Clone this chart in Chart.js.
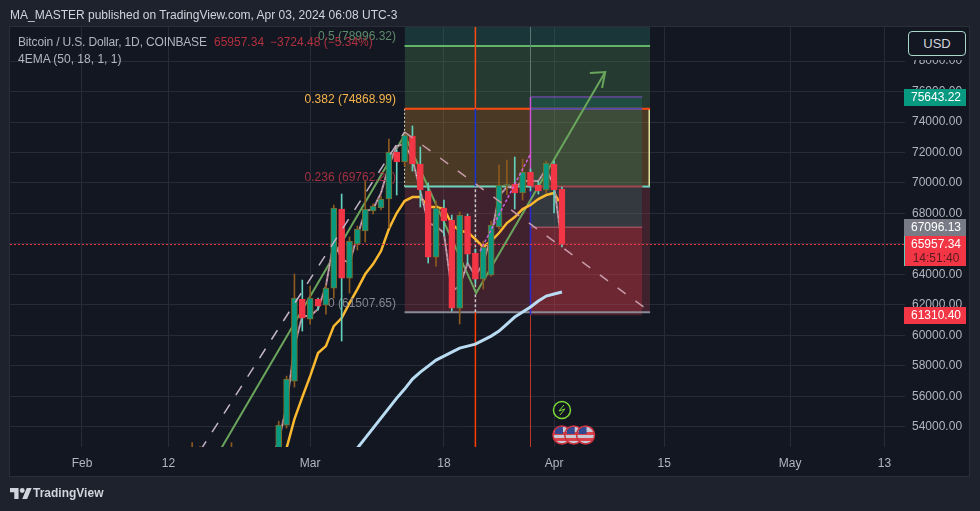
<!DOCTYPE html>
<html>
<head>
<meta charset="utf-8">
<title>BTCUSD</title>
<script src="https://cdn.jsdelivr.net/npm/chart.js@4/dist/chart.umd.min.js"></script>
<style>
  html, body { margin: 0; padding: 0; background: #1e222d; width: 980px; height: 511px; overflow: hidden; }
  body { font-family: "Liberation Sans", Arial, sans-serif; position: relative; }
  .txt { position: absolute; white-space: nowrap; line-height: 16px; }
  #panel { position: absolute; left: 9px; top: 26px; width: 959px; height: 449px; background: #131722; border: 1px solid #2a2e39; }
  #c { position: absolute; left: 0; top: 0; }
  #usdMask { position: absolute; left: 906px; top: 28px; width: 62px; height: 32px; background: #131722; }
  #usd { position: absolute; left: 908px; top: 31px; width: 56px; height: 23px; line-height: 23px; text-align: center;
         border: 1px solid #a8d8c8; border-radius: 4px; color: #d1d4dc; font-size: 13px; background: #131722; }
  #logo { position: absolute; left: 10px; top: 487px; }
</style>
</head>
<body>
<div id="panel"></div>
<canvas id="c" width="980" height="511"></canvas>
<div class="txt" style="left:10px;top:7px;font-size:12px;color:#d1d4dc">MA_MASTER published on TradingView.com, Apr 03, 2024 06:08 UTC-3</div>
<div class="txt" style="left:18px;top:34px;font-size:12px;letter-spacing:-0.15px;color:#b2b5be">Bitcoin / U.S. Dollar, 1D, COINBASE</div>
<div class="txt" style="left:214px;top:34px;font-size:12px;color:#b0303e">65957.34</div>
<div class="txt" style="left:270px;top:34px;font-size:12px;color:#b0303e">−3724.48 (−5.34%)</div>
<div class="txt" style="left:18px;top:51px;font-size:12px;color:#b2b5be">4EMA (50, 18, 1, 1)</div>
<div id="usdMask"></div>
<div id="usd">USD</div>
<svg id="logo" width="22" height="13" viewBox="0 4 36 18"><path fill="#d1d4dc" d="M14 22H7V11H0V4h14v18zM28 22h-8l7.5-18h8L28 22z"/><circle fill="#d1d4dc" cx="20" cy="8" r="4"/></svg>
<div class="txt" style="left:33px;top:485px;font-size:12px;font-weight:bold;color:#d1d4dc">TradingView</div>

<script>
// days are counted from Feb 1 2024
var yMin = 52668, yMax = 80236;
var xMin = -9.15, xMax = 104.6;

var priceTicks = [54000, 56000, 58000, 60000, 62000, 64000, 66000, 68000, 70000, 72000, 74000, 76000, 78000];
var dayTicks = [0, 11, 29, 46, 60, 74, 90, 102];
var dayLabels = ['Feb', '12', 'Mar', '18', 'Apr', '15', 'May', '13'];

// candles
var candleDays = [14, 15, 19, 25, 26, 27, 28, 29, 30, 31, 32, 33, 34, 35, 36, 37, 38, 39, 40, 41, 42, 43, 44, 45, 46, 47, 48, 49, 50, 51, 52, 53, 54, 55, 56, 57, 58, 59, 60, 61];
var candleOpen = [49700, 51800, 51500, 51700, 54105, 56994, 62379, 61066, 62379, 61985, 63100, 68288, 63757, 65989, 66843, 68156, 68354, 68944, 72030, 71374, 73081, 71242, 69470, 65136, 68354, 67565, 61788, 67828, 65398, 63691, 63954, 67106, 69798, 69929, 69338, 70717, 69864, 69535, 71242, 69601];
var candleClose = [51800, 51900, 51800, 54105, 57125, 62444, 61131, 62444, 61919, 63100, 68354, 63757, 66187, 66975, 68288, 68485, 68944, 72030, 71374, 73147, 71242, 69535, 65136, 68354, 67500, 61788, 67894, 65333, 63691, 65793, 67237, 69864, 69929, 69338, 70717, 69798, 69470, 71308, 69535, 65957.34];
var candleHigh = [52950, 52700, 52950, 54360, 57322, 64020, 63626, 63232, 62444, 63300, 68550, 69273, 66450, 67172, 70126, 68622, 69141, 72884, 72161, 73344, 73738, 72359, 69995, 68813, 68879, 67894, 68091, 67959, 65661, 66187, 67500, 71177, 71505, 71702, 71571, 70914, 70126, 71440, 71440, 69732];
var candleLow = [49200, 51000, 51000, 50900, 53908, 56600, 60277, 60737, 61657, 61394, 62444, 59621, 62772, 65596, 66121, 67959, 68222, 67040, 69207, 71111, 70783, 68419, 64742, 64545, 66515, 61591, 60737, 64677, 63363, 63035, 63889, 66975, 69207, 68288, 68879, 69470, 69273, 69338, 68025, 65793];

// the three averages of the 4EMA study
var fastDays = [24, 25, 26, 27, 28, 29, 30, 31, 32, 33, 34, 35, 36, 37, 38, 39, 40, 41, 42, 43, 44, 45, 46, 47, 48, 49, 50, 51, 52, 53, 54, 55, 56, 57, 58, 59, 60, 61];
var fastEma = [51900, 53055, 55353, 59292, 61262, 61262, 61722, 63232, 66187, 65005, 64742, 66515, 68156, 68288, 69338, 71111, 72424, 72556, 71571, 69470, 67369, 67172, 66712, 62903, 63232, 64742, 63889, 64742, 66515, 69141, 69732, 69667, 70126, 70126, 70126, 70914, 69798, 65989];
var midDays = [25, 26, 27, 28, 29, 30, 31, 32, 33, 34, 35, 36, 37, 38, 39, 40, 41, 42, 43, 44, 45, 46, 47, 48, 49, 50, 51, 52, 53, 54, 55, 56, 57, 58, 59, 60, 60.6];
var midEma = [50690, 52595, 54498, 55944, 57322, 58833, 59292, 60605, 61131, 62116, 63035, 64020, 64676, 65530, 66975, 68025, 68813, 69076, 69076, 68419, 68419, 68288, 67303, 66843, 66778, 66318, 65793, 66187, 66712, 67369, 67762, 68288, 68550, 68944, 69207, 69338, 68813];
var slowDays = [34, 35, 36, 37, 38, 39, 40, 41, 42, 43, 44, 45, 46, 47, 48, 49, 50, 51, 52, 53, 54, 55, 56, 57, 58, 59, 60, 61];
var slowEma = [51900, 52595, 53252, 53908, 54565, 55221, 55878, 56469, 57125, 57585, 57979, 58373, 58634, 58897, 59160, 59292, 59423, 59686, 59949, 60277, 60737, 61197, 61525, 61853, 62247, 62575, 62706, 62840];

// fib retracement and position tool
var fibLevels = [78996.32, 74868.99, 69762.26, 61507.65];
var fibLabels = ['0.5 (78996.32)', '0.382 (74868.99)', '0.236 (69762.26)', '0 (61507.65)'];
var fibLabelColors = ['#5d8a6a', '#f7b54a', '#a3303f', '#85858f'];
var fibStart = 41, fibEnd = 72.2, posStart = 57, posEnd = 71.2, crossDay = 50;
var posTarget = 75643.22, posEntry = 67096.13, posStop = 61310.40;
var lastPrice = 65957.34;

// drawn trend lines
var trendDays = [16.3, 41, 50.1, 66.5], trendPrices = [51347, 73147, 62772, 77283];
var arrowDays = [64.55, 66.5, 66.1], arrowPrices = [77217, 77283, 76233];
var upDashDays = [12, 41], upDashPrices = [50000, 73344];
var downDashDays = [41, 72], downDashPrices = [73344, 61630];
var purpleDays = [50.6, 57], purplePrices = [65530, 71900];

// axis tags
var tagPrices = [75643.22, 67096.13, 61310.40];
var tagTexts = ['75643.22', '67096.13', '61310.40'];
var tagColors = ['#089981', '#787b86', '#f23645'];
var countdown = '14:51:40';

// news markers under the candles
var flashDays = [61];
var flagDays = [61, 62.5, 64];

function pts(xs, ys) {
  return xs.map(function(x, i) { return { x: x, y: ys[i] }; });
}
function line(xs, ys, color, width, order, dash) {
  return { type: 'line', data: pts(xs, ys), borderColor: color, borderWidth: width, order: order,
           borderDash: dash || [], pointRadius: 0, tension: 0, fill: false };
}
function band(d0, d1, top, bottom, color, order) {
  return { type: 'line', data: pts([d0, d1], [top, top]), borderWidth: 0, pointRadius: 0, order: order,
           backgroundColor: color, fill: { value: bottom } };
}

var isUp = candleOpen.map(function(o, i) { return candleClose[i] >= o; });
var wicks = {
  type: 'bar', label: 'wicks', order: 5, barThickness: 1, grouped: false,
  data: candleDays.map(function(d, i) { return { x: d, y: [candleLow[i], candleHigh[i]] }; }),
  backgroundColor: isUp.map(function(u) { return u ? '#8d5a1e' : '#62d0bd'; })
};
var bodies = {
  type: 'bar', order: 4, barThickness: 6, grouped: false, borderWidth: 1, borderSkipped: false,
  data: candleDays.map(function(d, i) { return { x: d, y: [candleOpen[i], candleClose[i]] }; }),
  backgroundColor: isUp.map(function(u) { return u ? '#089981' : '#f23645'; }),
  borderColor: isUp.map(function(u) { return u ? '#7d6a2c' : '#f23645'; })
};

var datasets = [
  // fib bands
  band(fibStart, fibEnd, yMax, fibLevels[0], 'rgba(42,126,111,0.3)', 40),
  band(fibStart, fibEnd, fibLevels[0], fibLevels[1], 'rgba(79,143,87,0.3)', 40),
  band(fibStart, fibEnd, fibLevels[1], fibLevels[2], 'rgba(202,140,47,0.3)', 40),
  band(fibStart, fibEnd, fibLevels[2], fibLevels[3], 'rgba(169,60,77,0.3)', 40),
  // long position on top of them
  band(posStart, posEnd, posTarget, posEntry, 'rgba(8,153,129,0.2)', 35),
  band(posStart, posEnd, posEntry, posStop, 'rgba(242,54,69,0.25)', 35),

  // fib levels
  line([fibStart, fibEnd], [fibLevels[0], fibLevels[0]], '#63b56a', 2, 30),
  line([fibStart, fibEnd], [fibLevels[1], fibLevels[1]], '#ff4a12', 2, 30),
  line([posStart, posEnd], [fibLevels[1], fibLevels[1]], '#4a4fa8', 2, 29),
  line([fibStart, posStart], [fibLevels[2], fibLevels[2]], '#6fd5c0', 2, 30),
  line([posStart, posEnd], [fibLevels[2], fibLevels[2]], '#a04650', 2, 30),
  line([posEnd, fibEnd], [fibLevels[2], fibLevels[2]], '#6fd5c0', 2, 30),
  line([fibStart, fibEnd], [fibLevels[3], fibLevels[3]], '#8b8b97', 2, 30),
  line([posStart, posEnd], [posTarget, posTarget], '#8a4ad0', 1, 30),
  line([posStart, posEnd], [posEntry, posEntry], '#c06070', 1, 30),
  line([fibStart, fibStart], [fibLevels[1], fibLevels[2]], '#d8d8c0', 1, 30, [2, 2]),
  line([fibEnd - 0.1, fibEnd - 0.1], [fibLevels[1], fibLevels[2]], '#e0e0a0', 1, 30),

  // the two vertical markers, coloured by the band they cross
  line([crossDay, crossDay], [yMin, fibLevels[3]], '#ff3d00', 1.5, 28),
  line([crossDay, crossDay], [fibLevels[3], fibLevels[2]], '#c8c8c8', 1.5, 28, [3, 2]),
  line([crossDay, crossDay], [fibLevels[2], fibLevels[1]], '#1a36d0', 1.5, 28),
  line([crossDay, crossDay], [fibLevels[1], yMax], '#ff4a12', 1.5, 28),
  line([posStart, posStart], [yMin, posStop], '#c0392b', 1, 28),
  line([posStart, posStart], [posStop, fibLevels[2]], '#2a2ad0', 1.5, 28),
  line([posStart, posStart], [fibLevels[2], posTarget], '#d050d8', 1.5, 28),
  line([posStart, posStart], [posTarget, yMax], '#5f7a75', 1, 28),

  line(trendDays, trendPrices, '#6aa55c', 2, 20),
  line(arrowDays, arrowPrices, '#6aa55c', 2, 20),
  line(slowDays, slowEma, '#b9dcf2', 3, 16),
  line(midDays, midEma, '#fbb92f', 2.5, 15),
  line(fastDays, fastEma, '#b08a9a', 2, 14),
  line(fastDays, fastEma, 'rgba(255,255,255,0.7)', 1, 13, [1, 4]),
  line([xMin, xMax], [lastPrice, lastPrice], '#f23645', 1, 12, [2, 2]),
  wicks,
  bodies,
  line(upDashDays, upDashPrices, '#c4b4c8', 1.5, 3, [11, 11]),
  line(downDashDays, downDashPrices, '#c89aa8', 1.5, 3, [10, 12]),
  line(purpleDays, purplePrices, '#d060e0', 1.5, 3, [3, 2])
];

// fib labels sit under the candles, tags and markers on top of everything
var overlay = {
  id: 'overlay',
  beforeDatasetDraw: function(chart, args) {
    if (chart.data.datasets[args.index].label !== 'wicks') return;
    var ctx = chart.ctx, y = chart.scales.y;
    ctx.save();
    ctx.font = '12px "Liberation Sans"';
    ctx.textAlign = 'right';
    ctx.textBaseline = 'bottom';
    fibLevels.forEach(function(v, i) {
      ctx.fillStyle = fibLabelColors[i];
      ctx.fillText(fibLabels[i], 396, y.getPixelForValue(v) - 3);
    });
    ctx.restore();
  },
  afterDraw: function(chart) {
    var ctx = chart.ctx, xs = chart.scales.x, ys = chart.scales.y;
    ctx.save();
    ctx.font = '12px "Liberation Sans"';
    ctx.textAlign = 'center';
    ctx.textBaseline = 'middle';

    flashDays.forEach(function(d) {
      var cx = xs.getPixelForValue(d), cy = chart.chartArea.bottom - 37;
      ctx.beginPath();
      ctx.arc(cx, cy, 8.5, 0, Math.PI * 2);
      ctx.fillStyle = '#131722';
      ctx.fill();
      ctx.strokeStyle = '#7cd93a';
      ctx.lineWidth = 1.5;
      ctx.stroke();
      ctx.beginPath();
      ctx.moveTo(cx + 2, cy - 5);
      ctx.lineTo(cx - 3, cy + 1);
      ctx.lineTo(cx + 3, cy - 1);
      ctx.lineTo(cx - 2, cy + 5);
      ctx.strokeStyle = '#7cd93a';
      ctx.lineWidth = 1;
      ctx.stroke();
    });
    flagDays.forEach(function(d) {
      var cx = xs.getPixelForValue(d), cy = chart.chartArea.bottom - 12;
      ctx.save();
      ctx.beginPath();
      ctx.arc(cx, cy, 9, 0, Math.PI * 2);
      ctx.clip();
      ctx.fillStyle = '#c8c8d4';
      ctx.fillRect(cx - 9, cy - 9, 18, 18);
      ctx.fillStyle = '#d8404a';
      ctx.fillRect(cx - 9, cy - 3, 18, 3);
      ctx.fillRect(cx - 9, cy + 3, 18, 3);
      ctx.fillStyle = '#34488f';
      ctx.fillRect(cx - 7, cy - 8, 8, 7);
      ctx.restore();
      ctx.beginPath();
      ctx.arc(cx, cy, 9, 0, Math.PI * 2);
      ctx.strokeStyle = '#c8323e';
      ctx.lineWidth = 1.5;
      ctx.stroke();
    });

    tagPrices.forEach(function(v, i) {
      var py = Math.round(ys.getPixelForValue(v));
      ctx.fillStyle = tagColors[i];
      ctx.fillRect(904, py - 8, 62, 17);
      ctx.fillStyle = '#ffffff';
      ctx.fillText(tagTexts[i], 936, py + 1);
    });
    // current price tag with the bar countdown under it
    var py = Math.round(ys.getPixelForValue(lastPrice));
    ctx.fillStyle = '#f23645';
    ctx.fillRect(904, py - 9, 62, 30);
    ctx.fillStyle = '#5fcdb8';
    ctx.fillRect(904, py - 9, 1, 30);
    ctx.fillStyle = '#ffffff';
    ctx.fillText(lastPrice.toFixed(2), 936, py);
    ctx.fillStyle = '#5a1a20';
    ctx.fillText(countdown, 936, py + 14);
    ctx.restore();
  }
};

new Chart(document.getElementById('c'), {
  type: 'bar',
  data: { datasets: datasets },
  plugins: [overlay],
  options: {
    responsive: false,
    animation: false,
    parsing: { xAxisKey: 'x', yAxisKey: 'y' },
    layout: { padding: { left: 10, top: 27, right: 12, bottom: 35 } },
    plugins: { legend: { display: false }, tooltip: { enabled: false } },
    scales: {
      x: {
        type: 'linear', min: xMin, max: xMax, offset: false,
        grid: { color: '#262b37', offset: false, drawTicks: false },
        border: { display: false },
        afterBuildTicks: function(s) { s.ticks = dayTicks.map(function(v) { return { value: v }; }); },
        afterFit: function(s) { s.height = 29; },
        ticks: {
          color: '#b2b5be', font: { size: 12, family: 'Liberation Sans' }, padding: 9, maxRotation: 0, autoSkip: false,
          callback: function(v) { return dayLabels[dayTicks.indexOf(v)]; }
        }
      },
      y: {
        type: 'linear', position: 'right', min: yMin, max: yMax,
        grid: { color: '#262b37', drawTicks: false },
        border: { display: false },
        afterBuildTicks: function(s) { s.ticks = priceTicks.map(function(v) { return { value: v }; }); },
        afterFit: function(s) { s.width = 63; },
        ticks: {
          color: '#b2b5be', font: { size: 12, family: 'Liberation Sans' }, padding: 7, autoSkip: false,
          callback: function(v) { return v.toFixed(2); }
        }
      }
    }
  }
});
</script>
</body>
</html>
